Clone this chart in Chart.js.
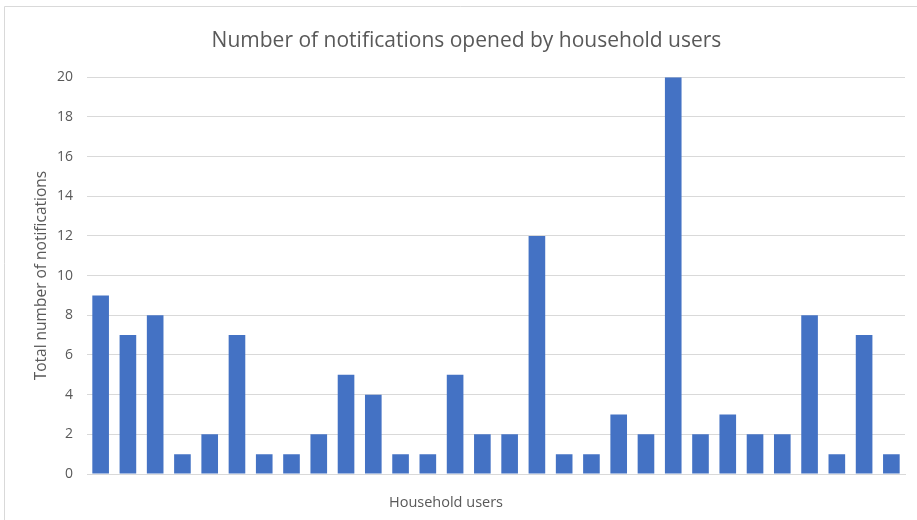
<!DOCTYPE html>
<html>
<head>
<meta charset="utf-8">
<title>Notifications opened</title>
<script src="https://cdn.jsdelivr.net/npm/chart.js@4/dist/chart.umd.min.js"></script>
<style>
  html, body { margin: 0; padding: 0; background: #fff; }
  #wrap { width: 917px; height: 520px; position: relative; }
</style>
</head>
<body>
<div id="wrap"><canvas id="notifChart" width="917" height="520"></canvas></div>
<script>
  // Data
  const users = Array.from({ length: 30 }, (_, i) => 'User ' + (i + 1));
  const opened = [9, 7, 8, 1, 2, 7, 1, 1, 2, 5, 4, 1, 1, 5, 2, 2, 12, 1, 1, 3, 2, 20, 2, 3, 2, 2, 8, 1, 7, 1];
  const yTicks = [0, 2, 4, 6, 8, 10, 12, 14, 16, 18, 20];
  const xTitle = 'Household users';

  const FONT = "'Open Sans', 'Noto Sans', sans-serif";
  const GREY = '#595959';

  // thin frame along the top and left edge
  const framePlugin = {
    id: 'frame',
    beforeDraw(chart) {
      const c = chart.ctx;
      c.save();
      c.strokeStyle = '#d9d9d9';
      c.lineWidth = 1;
      c.beginPath();
      c.moveTo(917, 6.5);
      c.lineTo(4.5, 6.5);
      c.lineTo(4.5, 520);
      c.stroke();
      c.restore();
    }
  };

  // x axis title sits a bit left of the plot centre
  const xTitlePlugin = {
    id: 'xTitle',
    afterDraw(chart) {
      const c = chart.ctx;
      c.save();
      c.font = '14.5px ' + FONT;
      c.fillStyle = GREY;
      c.textAlign = 'center';
      c.textBaseline = 'middle';
      c.fillText(xTitle, 446, 503);
      c.restore();
    }
  };

  new Chart(document.getElementById('notifChart'), {
    type: 'bar',
    data: {
      labels: users,
      datasets: [{
        data: opened,
        backgroundColor: '#4472C4',
        borderWidth: 0,
        barPercentage: 0.61,
        categoryPercentage: 1
      }]
    },
    options: {
      responsive: false,
      animation: false,
      layout: { padding: { left: 28, right: 12, top: 0, bottom: 0 } },
      plugins: {
        legend: { display: false },
        tooltip: { enabled: false },
        title: {
          display: true,
          text: 'Number of notifications opened by household users',
          color: GREY,
          font: { family: FONT, size: 21, weight: 'normal' },
          padding: { top: 28, bottom: 24 }
        }
      },
      scales: {
        x: {
          grid: { display: false, drawTicks: false },
          border: { display: true, color: '#d9d9d9' },
          ticks: { display: false },
          afterFit: (s) => { s.height = 46; }
        },
        y: {
          min: 0,
          max: 20,
          afterBuildTicks: (s) => { s.ticks = yTicks.map(v => ({ value: v })); },
          grid: { color: '#d9d9d9', drawTicks: false },
          border: { display: false },
          ticks: {
            color: GREY,
            font: { family: FONT, size: 14 },
            padding: 14
          },
          title: {
            display: true,
            text: 'Total number of notifications',
            color: GREY,
            font: { family: FONT, size: 15.5 },
            padding: { top: 4, bottom: 0 }
          },
          afterFit: (s) => { s.width = 59; }
        }
      }
    },
    plugins: [framePlugin, xTitlePlugin]
  });
</script>
</body>
</html>
